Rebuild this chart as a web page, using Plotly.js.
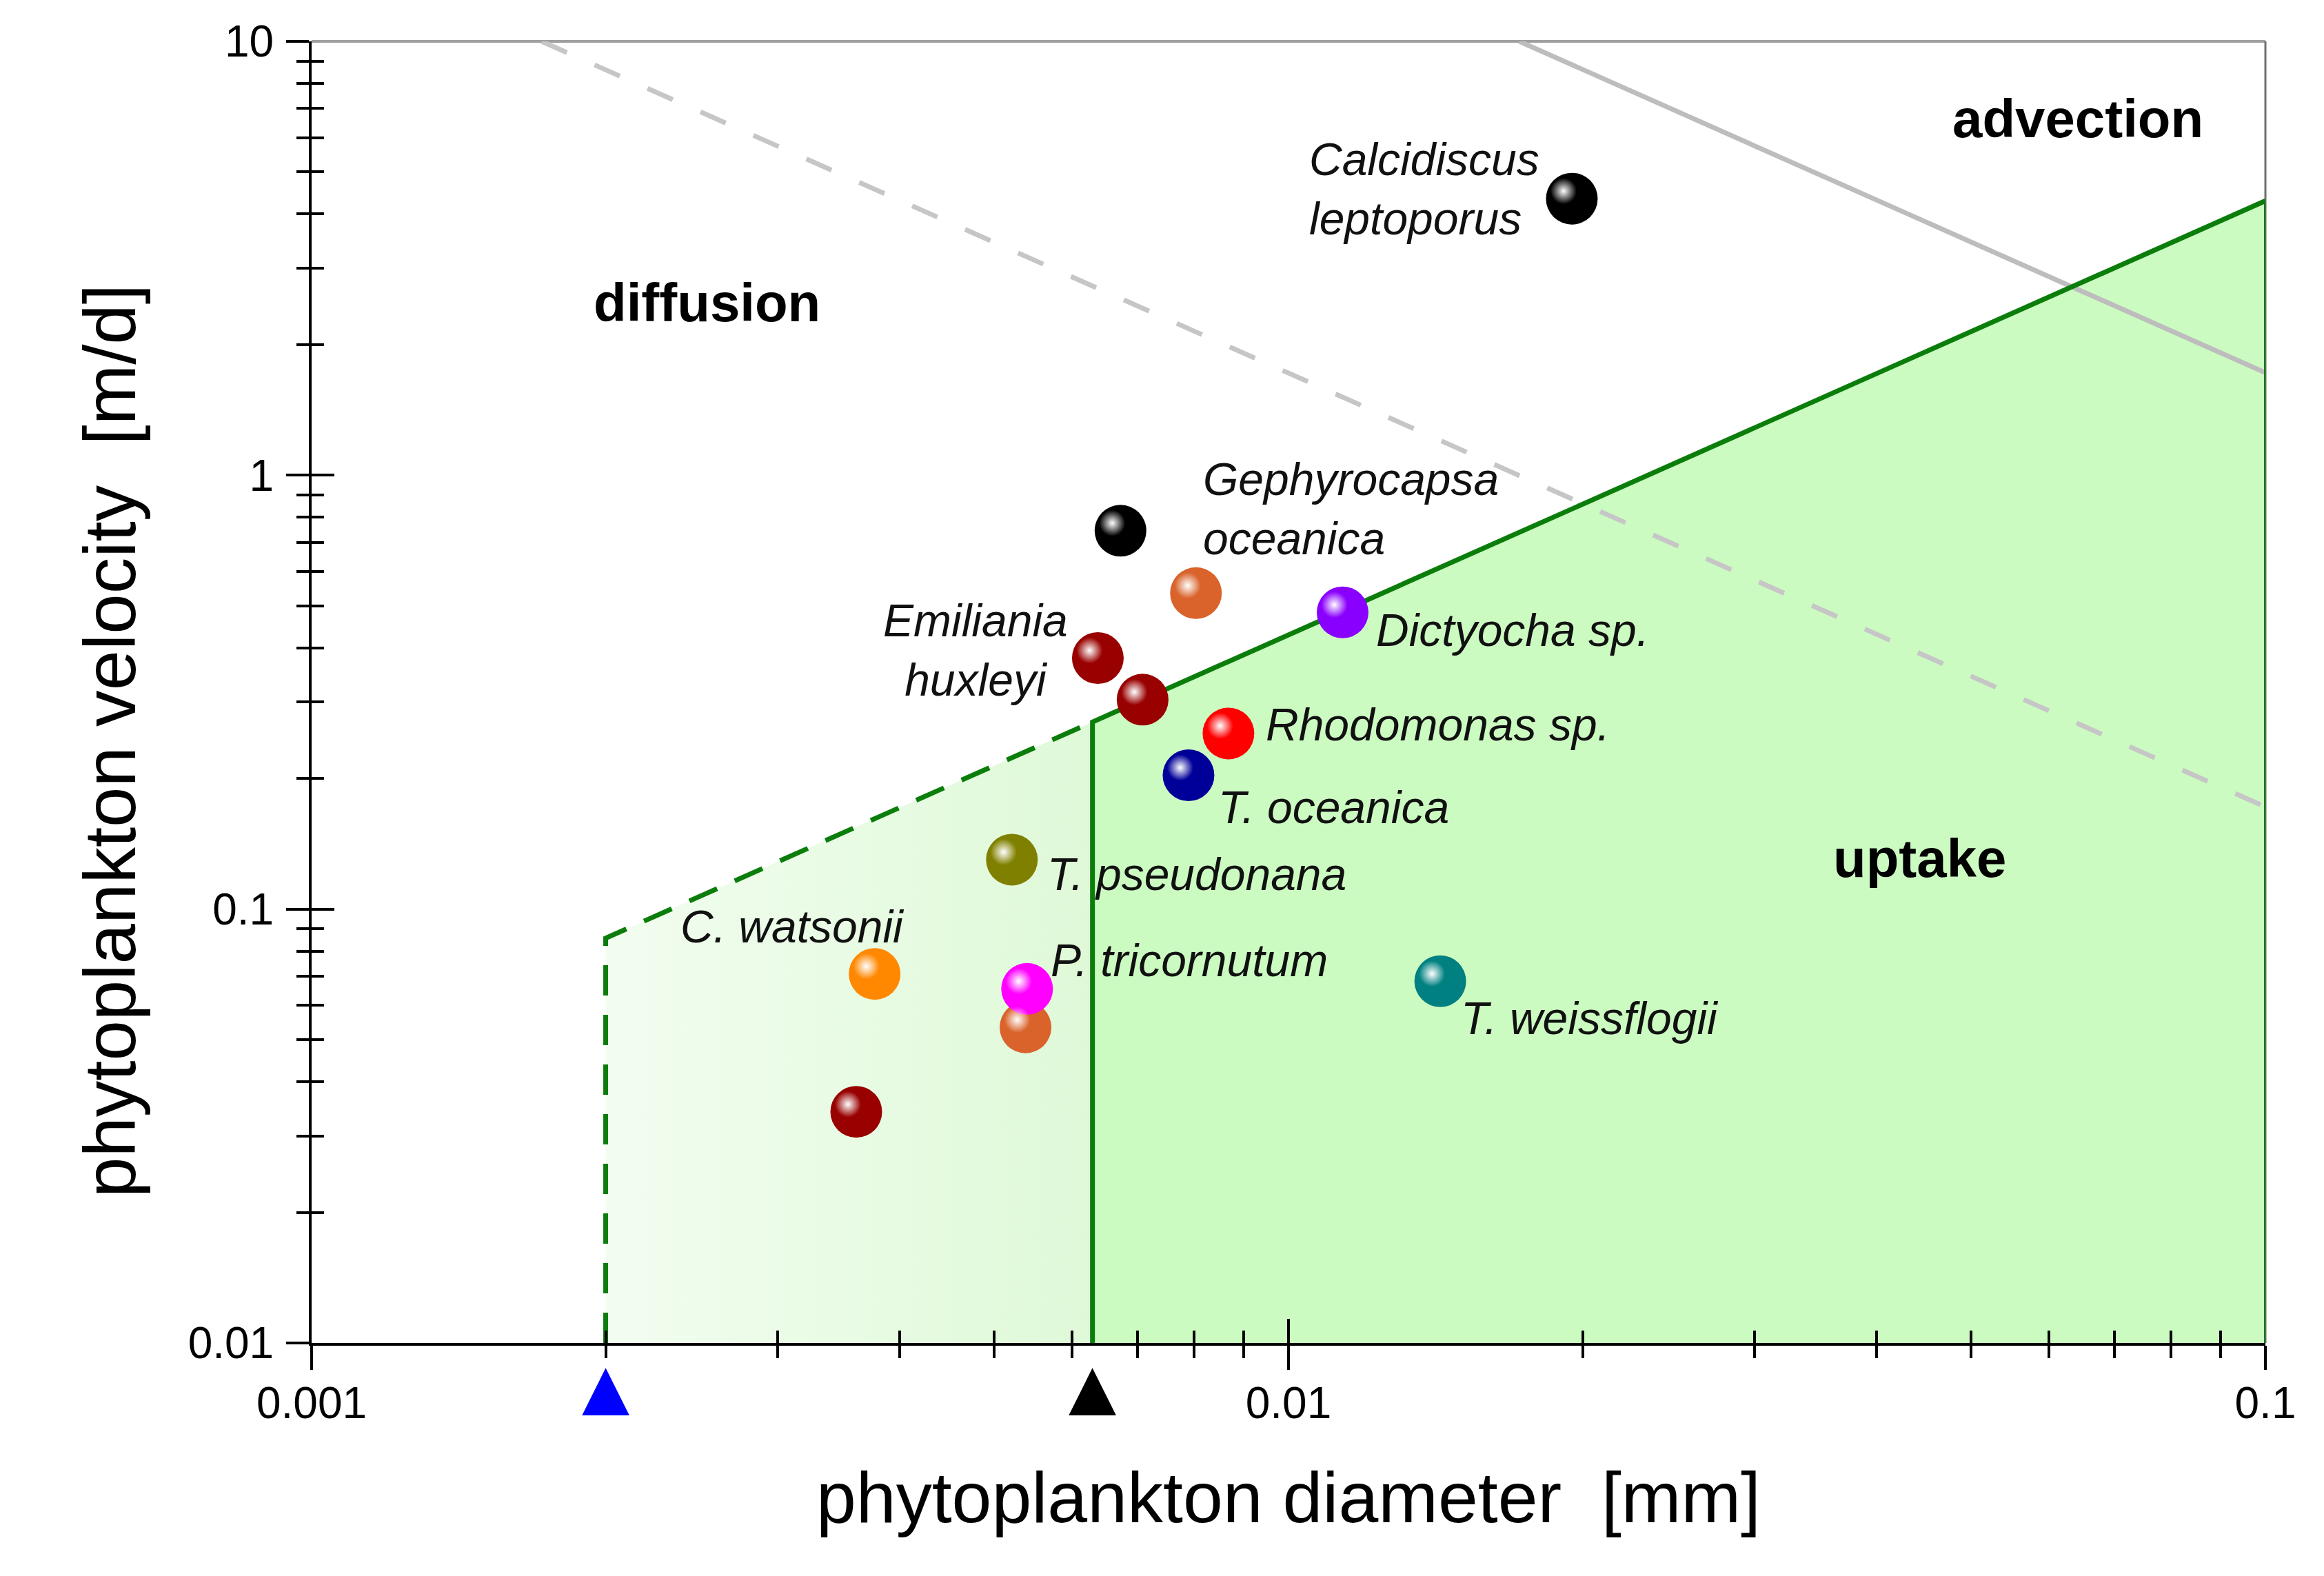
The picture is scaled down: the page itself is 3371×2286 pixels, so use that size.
<!DOCTYPE html>
<html>
<head>
<meta charset="utf-8">
<script src="https://cdn.plot.ly/plotly-3.0.1.min.js"></script>
<style>html,body{margin:0;padding:0;background:#fff;}#chart{width:3371px;height:2286px;}</style>
</head>
<body>
<div id="chart"></div>
<script>
// ---------------- data ----------------
const species = ['Calcidiscus leptoporus','Gephyrocapsa oceanica','coccolithophore (orange-brown)','Dictyocha sp.',
  'Emiliania huxleyi','Emiliania huxleyi','Rhodomonas sp.','T. oceanica','T. pseudonana','C. watsonii',
  'diatom (orange-brown)','P. tricornutum','Emiliania huxleyi (small)','T. weissflogii'];
const diameterMM = [0.0195, 0.00673, 0.00804, 0.01136, 0.00638, 0.00709, 0.00868, 0.0079, 0.00521, 0.00377, 0.00538, 0.0054, 0.00361, 0.0143];
const velocityMD = [4.34, 0.745, 0.535, 0.483, 0.379, 0.304, 0.254, 0.2035, 0.13, 0.0709, 0.0534, 0.0655, 0.0341, 0.0682];
const pointLabels = ['Calcidiscus<br>leptoporus','Gephyrocapsa<br>oceanica','','Dictyocha sp.','Emiliania<br>huxleyi','',
  'Rhodomonas sp.','T. oceanica','T. pseudonana','C. watsonii','','P. tricornutum','','T. weissflogii'];

// regime boundaries (diameter mm, velocity m/d)
const uptakeDashedX = [0.002, 0.002, 0.0063];
const uptakeDashedY = [0.01, 0.0857, 0.27];
const uptakeSolidX  = [0.0063, 0.0063, 0.1];
const uptakeSolidY  = [0.01, 0.27, 4.29];
const uptakeEdgeX   = [0.1, 0.1];
const uptakeEdgeY   = [4.29, 0.01];
const advectionX    = [0.01723, 0.1];
const advectionY    = [10, 1.723];
const diffusionX    = [0.00172, 0.1];
const diffusionY    = [10, 0.172];
const thresholdDiam = [0.002, 0.0063];

const regionNames = ['diffusion','advection','uptake'];
const regionX = [0.00254, 0.0643, 0.0443];
const regionY = [2.5, 6.64, 0.131];

const xTickVals = [0.001, 0.01, 0.1];
const xTickText = ['0.001','0.01','0.1'];
const yTickVals = [0.01, 0.1, 1, 10];
const yTickText = ['0.01','0.1','1','10'];
const xTitle = 'phytoplankton diameter\u00A0 [mm]';
const yTitle = 'phytoplankton velocity\u00A0 [m/d]';

// ---------------- styles ----------------
const FONT = 'Liberation Sans, Arial, Helvetica, sans-serif';
const pointColors = ['#000000','#000000','#d9632b','#8a00ff','#990000','#990000','#ff0000','#000099','#808000','#ff8800','#d9632b','#ff00ff','#990000','#008080'];
// label placement (pixel offsets relative to the point)
const labelStyle = [
  {xanchor:'right', align:'left', xs:-45, ys:14},
  {xanchor:'left', align:'left', xs:118, ys:32},
  null,
  {xanchor:'left', align:'left', xs:47, ys:-26},
  {xanchor:'center', align:'center', xs:-177, ys:12},
  null,
  {xanchor:'left', align:'left', xs:52, ys:13},
  {xanchor:'left', align:'left', xs:41, ys:-47},
  {xanchor:'left', align:'left', xs:49, ys:-21},
  {xanchor:'left', align:'left', xs:-284, ys:69},
  null,
  {xanchor:'left', align:'left', xs:32, ys:41},
  null,
  {xanchor:'left', align:'left', xs:28, ys:-54}
];
const triColors = ['#0000ff', '#000000'];
// sphere highlight: drawn on an overlay axis pair offset by a few pixels (up-left)
const HL_DX = 12 / 1416.7;   // decades per 12 px horizontally
const HL_DY = 11 / 629.3;    // decades per 11 px vertically

function minorVals(lo, hi){
  const v = [];
  for (let d = lo; d < hi; d *= 10) for (let k = 2; k <= 9; k++) v.push(+(k*d).toPrecision(3));
  return v;
}
const xMinor = minorVals(0.001, 0.1);
const yMinor = minorVals(0.01, 10);

const traces = [
  { // light green (diffusion-limited uptake) area
    x: uptakeDashedX.concat([uptakeSolidX[0]]), y: uptakeDashedY.concat([uptakeSolidY[0]]),
    mode:'lines', fill:'toself', line:{width:0},
    fillcolor:'#e4fadf',
    fillgradient:{type:'horizontal', colorscale:[[0,'#f2fdf0'],[1,'#dff9d8']]},
    hoverinfo:'skip', showlegend:false
  },
  { // uptake area
    x: uptakeSolidX.concat(uptakeEdgeX), y: uptakeSolidY.concat(uptakeEdgeY),
    mode:'lines', fill:'toself', line:{width:0}, fillcolor:'#ccfbc2',
    hoverinfo:'skip', showlegend:false
  },
  { x: diffusionX, y: diffusionY, mode:'lines', line:{color:'#c6c6c6', width:7, dash:'40px,44px'}, hoverinfo:'skip', showlegend:false },
  { x: advectionX, y: advectionY, mode:'lines', line:{color:'#bdbdbd', width:7}, hoverinfo:'skip', showlegend:false },
  { x: uptakeDashedX, y: uptakeDashedY, mode:'lines', line:{color:'#0b7d0b', width:7, dash:'44px,28px'}, hoverinfo:'skip', showlegend:false },
  { x: uptakeSolidX, y: uptakeSolidY, mode:'lines', line:{color:'#0b7d0b', width:7}, hoverinfo:'skip', showlegend:false },
  { x: uptakeEdgeX, y: uptakeEdgeY, mode:'lines', line:{color:'#0b7d0b', width:4}, hoverinfo:'skip', showlegend:false },
  { // phytoplankton species
    x: diameterMM, y: velocityMD, text: species, mode:'markers', cliponaxis:false,
    marker:{size:75, color:pointColors, line:{width:0}}, hovertemplate:'%{text}<extra></extra>', showlegend:false
  },
  { // invisible companion trace for the inner tick axes
    x: diameterMM, y: velocityMD, xaxis:'x2', yaxis:'y2', mode:'markers',
    marker:{size:1, opacity:0}, hoverinfo:'skip', showlegend:false
  },
  { // glossy highlight of each sphere
    x: diameterMM, y: velocityMD, xaxis:'x3', yaxis:'y3', mode:'markers', cliponaxis:false,
    marker:{size:38, color:'rgba(255,255,255,0)', line:{width:0},
      gradient:{type:'radial', color:'rgba(255,255,255,1)'}},
    hoverinfo:'skip', showlegend:false
  }
];

const annotations = [];
// species labels
pointLabels.forEach((t, i) => {
  if (!t) return;
  const s = labelStyle[i];
  annotations.push({x:Math.log10(diameterMM[i]), y:Math.log10(velocityMD[i]), xref:'x', yref:'y', text:t,
    showarrow:false, xanchor:s.xanchor, yanchor:'middle', align:s.align, xshift:s.xs, yshift:s.ys,
    font:{family:FONT, size:66, color:'#111', style:'italic'}});
});
// regime labels
regionNames.forEach((t, i) => {
  annotations.push({x:Math.log10(regionX[i]), y:Math.log10(regionY[i]), xref:'x', yref:'y', text:'<b>'+t+'</b>',
    showarrow:false, xanchor:'center', yanchor:'middle', font:{family:FONT, size:78, color:'#000'}});
});
// threshold triangles below the x axis
thresholdDiam.forEach((d, i) => {
  annotations.push({x:Math.log10(d), y:0, xref:'x', yref:'paper', text:'▲', showarrow:false,
    xanchor:'center', yanchor:'top', yshift:-8, font:{family:'DejaVu Sans', size:90, color:triColors[i]}});
});
// y-axis title (placed as in the reference, slightly below the axis centre)
annotations.push({x:0, xref:'paper', xanchor:'center', xshift:-292, y:0.4624, yref:'paper', yanchor:'middle',
  textangle:-90, text:yTitle, showarrow:false, font:{family:FONT, size:105, color:'#000'}});

const axisCommon = {type:'log', showgrid:false, zeroline:false, automargin:false, color:'#000'};
const layout = {
  width:3371, height:2286,
  margin:{l:452, r:85, t:60, b:338},
  paper_bgcolor:'#ffffff', plot_bgcolor:'#ffffff',
  showlegend:false,
  font:{family:FONT, color:'#000'},
  xaxis: Object.assign({}, axisCommon, {
    range:[-3,-1], showline:true, linecolor:'#000', linewidth:4,
    ticks:'outside', ticklen:35, tickwidth:4, tickcolor:'#000',
    tickmode:'array', tickvals:xTickVals, ticktext:xTickText,
    tickfont:{family:FONT, size:64, color:'#000'}, ticklabelstandoff:-7,
    minor:{ticks:'outside', tickvals:xMinor, ticklen:18, tickwidth:4, tickcolor:'#000', showgrid:false},
    title:{text:xTitle, font:{family:FONT, size:104, color:'#000'}, standoff:66}
  }),
  yaxis: Object.assign({}, axisCommon, {
    range:[-2,1], showline:true, linecolor:'#000', linewidth:4,
    ticks:'outside', ticklen:33, tickwidth:4, tickcolor:'#000',
    tickmode:'array', tickvals:yTickVals, ticktext:yTickText,
    tickfont:{family:FONT, size:64, color:'#000'}, ticklabelstandoff:5,
    minor:{ticks:'outside', tickvals:yMinor, ticklen:18, tickwidth:4, tickcolor:'#000', showgrid:false}
  }),
  xaxis2: Object.assign({}, axisCommon, {
    range:[-3,-1], overlaying:'x', anchor:'y2', side:'bottom', showline:false,
    ticks:'inside', ticklen:35, tickwidth:4, tickcolor:'#000', tickmode:'array', tickvals:xTickVals,
    showticklabels:false,
    minor:{ticks:'inside', tickvals:xMinor, ticklen:18, tickwidth:4, tickcolor:'#000', showgrid:false}
  }),
  yaxis2: Object.assign({}, axisCommon, {
    range:[-2,1], overlaying:'y', anchor:'x2', side:'left', showline:false,
    ticks:'inside', ticklen:33, tickwidth:4, tickcolor:'#000', tickmode:'array', tickvals:yTickVals,
    showticklabels:false,
    minor:{ticks:'inside', tickvals:yMinor, ticklen:18, tickwidth:4, tickcolor:'#000', showgrid:false}
  }),
  xaxis3: Object.assign({}, axisCommon, {
    range:[-3 + HL_DX, -1 + HL_DX], overlaying:'x', anchor:'y3', visible:false
  }),
  yaxis3: Object.assign({}, axisCommon, {
    range:[-2 - HL_DY, 1 - HL_DY], overlaying:'y', anchor:'x3', visible:false
  }),
  shapes:[
    {type:'line', xref:'paper', yref:'paper', x0:0, x1:1, y0:1, y1:1, line:{color:'#a0a0a0', width:4}, layer:'below'},
    {type:'line', xref:'paper', yref:'paper', x0:1, x1:1, y0:0, y1:1, line:{color:'#707070', width:3}, layer:'below'}
  ],
  annotations: annotations
};

Plotly.newPlot('chart', traces, layout, {staticPlot:true, displayModeBar:false});
</script>
</body>
</html>
